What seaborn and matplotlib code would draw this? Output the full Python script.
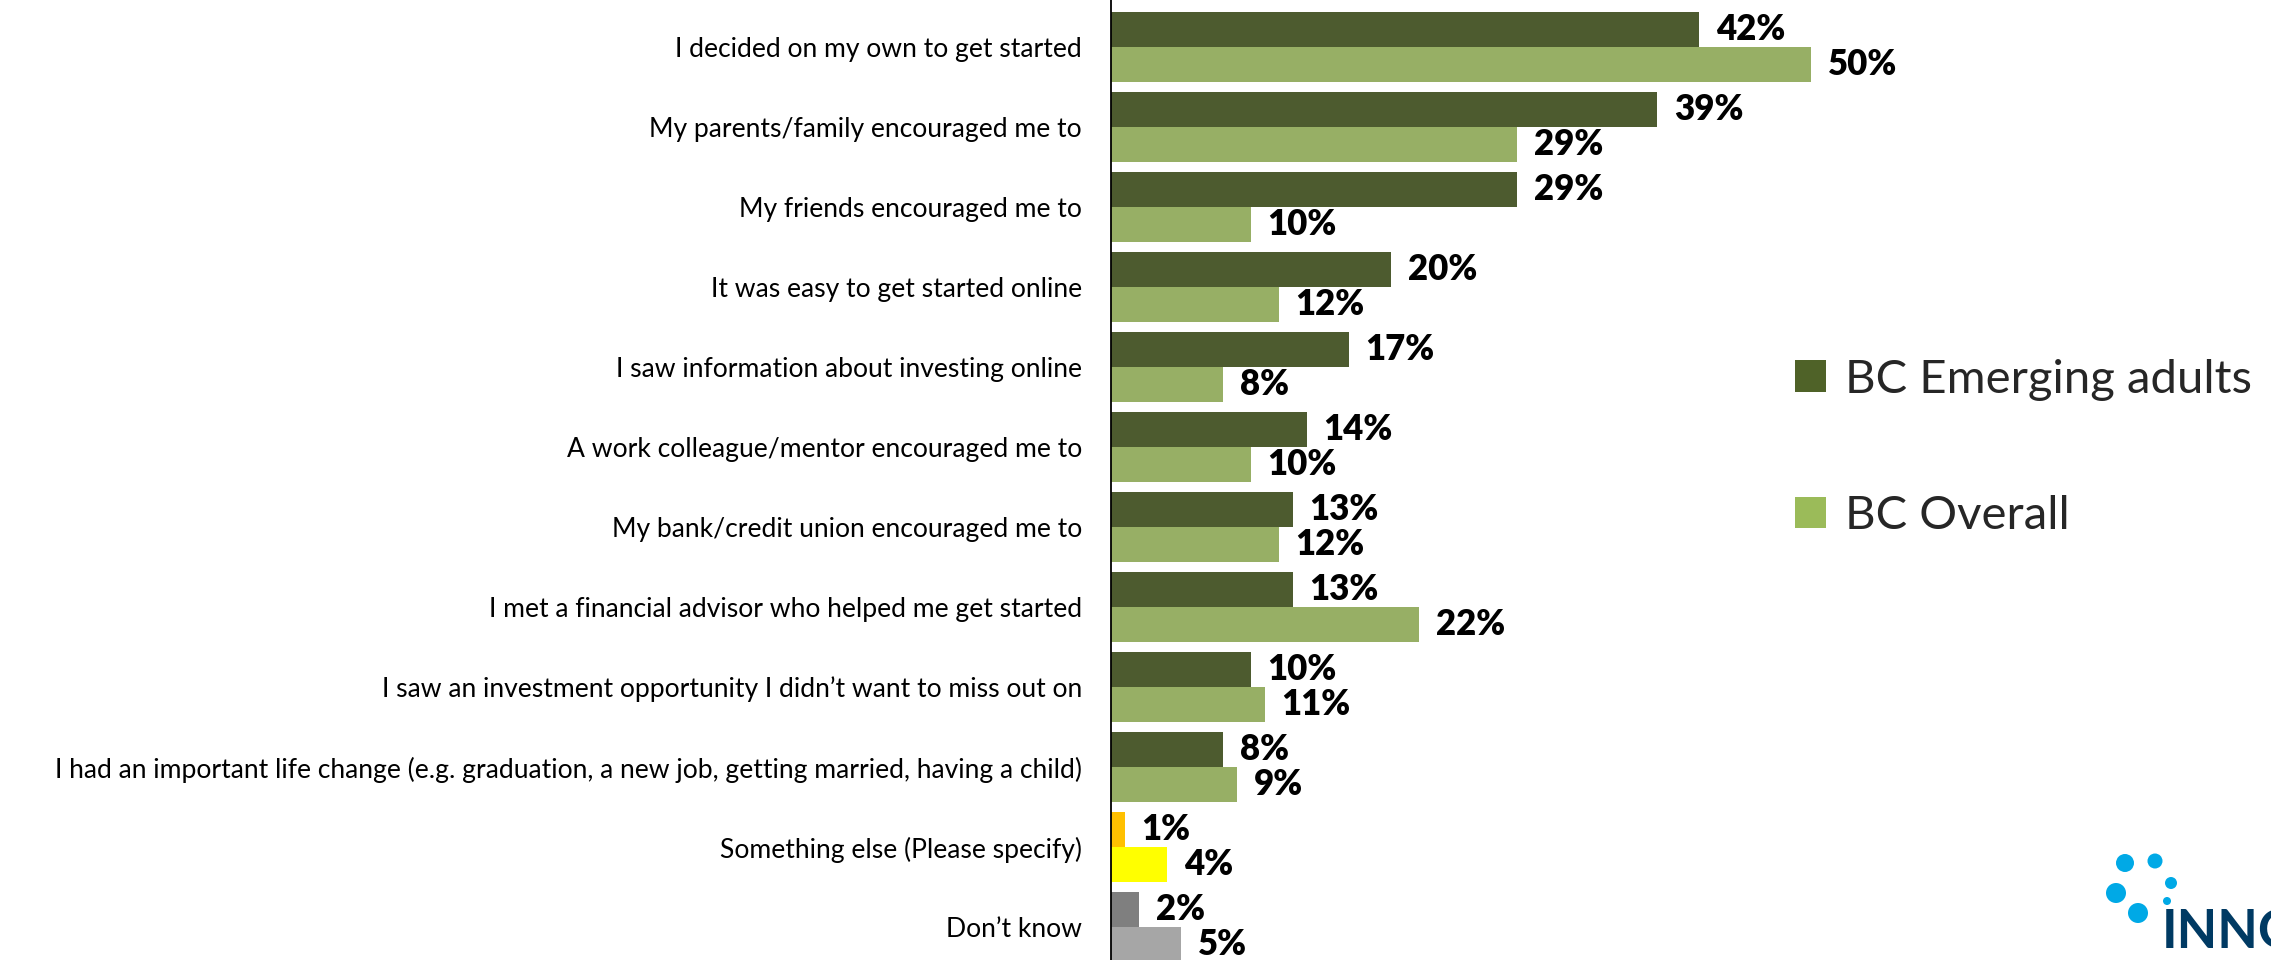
import matplotlib
matplotlib.use("Agg")
import matplotlib.pyplot as plt
from matplotlib.patches import Patch, Circle
import pandas as pd
import seaborn as sns

categories = [
    "I decided on my own to get started",
    "My parents/family encouraged me to",
    "My friends encouraged me to",
    "It was easy to get started online",
    "I saw information about investing online",
    "A work colleague/mentor encouraged me to",
    "My bank/credit union encouraged me to",
    "I met a financial advisor who helped me get started",
    "I saw an investment opportunity I didn\u2019t want to miss out on",
    "I had an important life change (e.g. graduation, a new job, getting married, having a child)",
    "Something else (Please specify)",
    "Don\u2019t know",
]
groups = ["BC Emerging adults", "BC Overall"]
emerging = [42, 39, 29, 20, 17, 14, 13, 13, 10, 8, 1, 2]
overall = [50, 29, 10, 12, 8, 10, 12, 22, 11, 9, 4, 5]

colors = ["#4F6228", "#9BBB59"]
other_colors = ["#FFC000", "#FFFF00"]
dk_colors = ["#7F7F7F", "#A6A6A6"]

# logo dots (x, y, radius) in pixels
logo_dots = [(2125, 863, 9), (2155, 861, 7.5), (2171, 883, 6), (2116, 893, 10),
             (2138, 913, 10), (2167, 901, 4)]

sns.set_theme(style="white")
plt.rcParams["font.family"] = ["Lato", "DejaVu Sans"]

df = pd.DataFrame({
    "category": categories * 2,
    "group": [groups[0]] * len(categories) + [groups[1]] * len(categories),
    "value": emerging + overall,
})

W, H = 2271, 960
fig = plt.figure(figsize=(W / 100, H / 100), dpi=100)
ax = fig.add_axes([1111 / W, 0, 840 / W, 1])

sns.barplot(data=df, y="category", x="value", hue="group", order=categories,
            hue_order=groups, palette=colors, orient="h", width=0.875,
            linewidth=0, legend=False, ax=ax)

# special colours for the last two rows
for k in range(2):
    ax.containers[k][10].set_facecolor(other_colors[k])
    ax.containers[k][11].set_facecolor(dk_colors[k])

for k, vals in enumerate([emerging, overall]):
    ax.bar_label(ax.containers[k], labels=[f"{v}%" for v in vals], padding=12,
                 fontsize=25, fontweight="heavy", color="black", clip_on=False)

ax.set_xlim(0, 60)
ax.set_ylim(11.4125, -0.5875)
ax.set_xlabel("")
ax.set_ylabel("")
ax.set_xticks([])
ax.tick_params(axis="y", length=0, pad=21, labelsize=19.1, labelcolor="black")
for s in ["top", "right", "bottom"]:
    ax.spines[s].set_visible(False)
ax.spines["left"].set_color("black")
ax.spines["left"].set_linewidth(1.3)

handles = [Patch(facecolor=c, edgecolor="none") for c in colors]
fig.legend(handles, groups, loc="center left", bbox_to_anchor=(1795 / W, 1 - 448 / H),
           frameon=False, fontsize=34, handlelength=0.65, handleheight=0.65,
           handletextpad=0.4, labelspacing=2.0, borderpad=0, borderaxespad=0)

# logo in the corner
lax = fig.add_axes([2080 / W, 0, 191 / W, 130 / H])
lax.set_xlim(2080, 2271)
lax.set_ylim(960, 830)
lax.axis("off")
for x, y, r in logo_dots:
    lax.add_patch(Circle((x, y), r, color="#00A9E6", lw=0))
lax.text(2162, 948, "INNO", color="#003A63", fontsize=38, fontweight="bold",
         va="baseline", ha="left", clip_on=True)

fig.savefig("out.png", dpi=100)
